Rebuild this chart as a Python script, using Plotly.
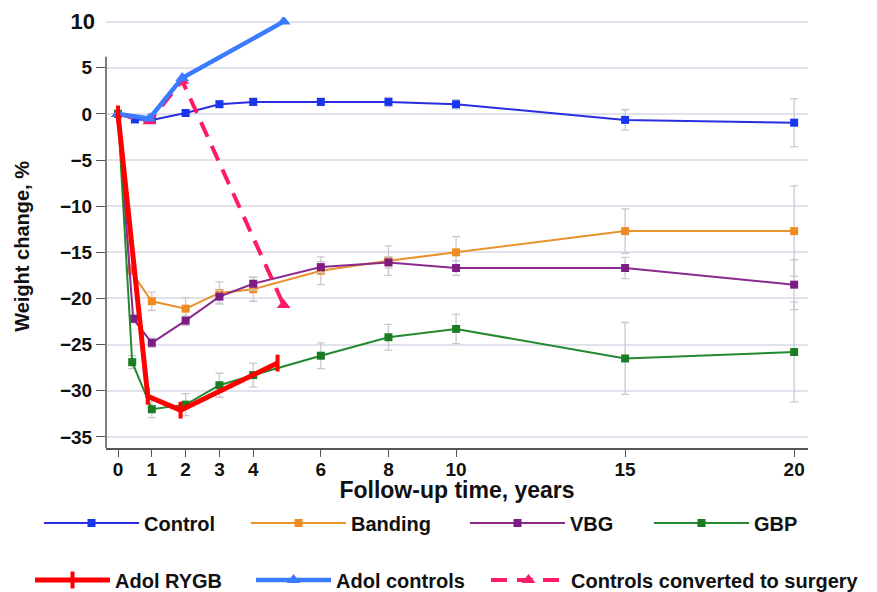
import plotly.graph_objects as go

# ---- data ----
years_ctrl = [0, 0.5, 1, 2, 3, 4, 6, 8, 10, 15, 20]
control = [0, -0.6, -0.65, 0.1, 1.05, 1.3, 1.3, 1.3, 1.05, -0.65, -0.95]
control_err = [0.2, 0.3, 0.3, 0.3, 0.35, 0.4, 0.4, 0.5, 0.5, 1.1, 2.6]

years_band = [0, 0.35, 1, 2, 3, 4, 6, 8, 10, 15, 20]
banding = [0, -16.9, -20.3, -21.1, -19.4, -19.0, -17.0, -15.9, -15.0, -12.7, -12.7]
banding_err = [0.2, 0.5, 1.0, 1.2, 1.2, 1.3, 1.5, 1.6, 1.7, 2.4, 4.9]

years_vbg = [0, 0.45, 1, 2, 3, 4, 6, 8, 10, 15, 20]
vbg = [0, -22.2, -24.8, -22.4, -19.8, -18.4, -16.6, -16.1, -16.7, -16.7, -18.5]
vbg_err = [0.2, 0.4, 0.5, 0.5, 0.7, 0.7, 0.6, 0.6, 0.8, 1.15, 2.7]

years_gbp = [0, 0.42, 1, 2, 3, 4, 6, 8, 10, 15, 20]
gbp = [0, -26.9, -32.0, -31.5, -29.4, -28.3, -26.2, -24.2, -23.3, -26.5, -25.8]
gbp_err = [0.2, 0.7, 0.9, 1.2, 1.3, 1.3, 1.4, 1.4, 1.6, 3.9, 5.4]

years_rygb = [0, 0.88, 1.85, 4.72]
adol_rygb = [0, -30.6, -32.1, -27.0]

years_adol_ctrl = [0, 0.93, 1.9, 4.9]
adol_controls = [0, -0.5, 3.9, 10.0]

years_conv = [0, 0.93, 1.9, 4.9]
converted = [0, -0.8, 3.6, -20.7]

x_ticks = [0, 1, 2, 3, 4, 6, 8, 10, 15, 20]
y_ticks = [-35, -30, -25, -20, -15, -10, -5, 0, 5]
y_top_tick = [10]

FONT = "Arial, Liberation Sans, sans-serif"
ERR = "#c9c9cf"
W, H = 877, 592
ML, MR, MT, MB = 106, 69, 17, 144
PW = W - ML - MR

fig = go.Figure()

def group_trace(x, y, err, name, color, mcolor, leg):
    fig.add_trace(go.Scatter(
        x=x, y=y, name=name, mode="lines+markers",
        line=dict(color=color, width=2),
        marker=dict(symbol="square", size=8, color=mcolor),
        error_y=dict(type="data", array=err, color=ERR, thickness=1.3, width=4),
        legend=leg,
    ))

group_trace(years_ctrl, control, control_err, "Control", "#2a2ee0", "#1836f2", "legend")
group_trace(years_band, banding, banding_err, "Banding", "#e8912d", "#ee8c22", "legend2")
group_trace(years_vbg, vbg, vbg_err, "VBG", "#8a2a8e", "#7d1d84", "legend3")
group_trace(years_gbp, gbp, gbp_err, "GBP", "#23892e", "#1a7d24", "legend4")

fig.add_trace(go.Scatter(
    x=years_conv, y=converted, name="Controls converted to surgery",
    mode="lines+markers",
    line=dict(color="#ff1a64", width=4, dash="16px,10px"),
    marker=dict(symbol="triangle-up", size=12, color="#ff1a64"),
    legend="legend7",
))
fig.add_trace(go.Scatter(
    x=years_adol_ctrl, y=adol_controls, name="Adol controls",
    mode="lines+markers",
    line=dict(color="#3b7bff", width=4.5),
    marker=dict(symbol="triangle-up", size=12, color="#3b7bff"),
    legend="legend6",
))
fig.add_trace(go.Scatter(
    x=years_rygb, y=adol_rygb, name="Adol RYGB",
    mode="lines+markers",
    line=dict(color="#ff0000", width=5),
    marker=dict(symbol="line-ns", size=12, line=dict(color="#ff0000", width=4)),
    legend="legend5",
))

# invisible trace on second y-axis to carry the "10" tick/gridline
fig.add_trace(go.Scatter(x=[None], y=[None], yaxis="y2", showlegend=False, hoverinfo="skip"))

YR = [-36.2, 10.5]
XR = [-0.355, 20.41]

def leg(text_x, row_y, itemw, size=20):
    return dict(
        orientation="h", xref="container", yref="container",
        x=(text_x - itemw - 11) / W, xanchor="left",
        y=1 - row_y / H, yanchor="middle",
        itemwidth=itemw,
        font=dict(family=FONT, size=size, color="#111111", weight="bold"),
        bgcolor="rgba(0,0,0,0)",
    )

fig.update_layout(
    width=W, height=H,
    margin=dict(l=ML, r=MR, t=MT, b=MB, autoexpand=False),
    paper_bgcolor="white", plot_bgcolor="white",
    font=dict(family=FONT, color="#111111"),
    xaxis=dict(
        range=XR, tickvals=x_ticks, showgrid=False, zeroline=False, automargin=False,
        showline=True, linecolor="#555555", linewidth=1.5,
        ticks="outside", ticklen=7, tickcolor="#555555", tickwidth=1.3,
        ticklabelstandoff=-4,
        tickfont=dict(family=FONT, size=19, color="#111111", weight="bold"),
        title=dict(text="<b>Follow-up time, years</b>", standoff=17,
                   font=dict(family=FONT, size=23, color="#111111")),
    ),
    yaxis=dict(
        range=YR, tickvals=y_ticks, showgrid=True, gridcolor="#e2e2ec", gridwidth=1.5,
        zeroline=False, showline=False, automargin=False,
        ticks="outside", ticklen=9, tickcolor="#555555", tickwidth=1.3,
        tickfont=dict(family=FONT, size=19, color="#111111", weight="bold"),
    ),
    yaxis2=dict(
        range=YR, overlaying="y", side="left", anchor="x", automargin=False,
        tickvals=y_top_tick, showgrid=True, gridcolor="#e2e2ec", gridwidth=1.5,
        zeroline=False, showline=False, ticks="", ticklabelstandoff=10,
        tickfont=dict(family=FONT, size=22, color="#111111", weight="bold"),
    ),
    legend=leg(145, 523, 95),
    legend2=leg(352, 523, 95),
    legend3=leg(571, 523, 95),
    legend4=leg(755, 523, 95),
    legend5=leg(116, 580, 75),
    legend6=leg(337, 580, 75),
    legend7=leg(572, 580, 75),
    shapes=[dict(type="line", xref="paper", yref="y", x0=0, x1=0, y0=YR[0], y1=6.2,
                 line=dict(color="#555555", width=1.5))],
    annotations=[dict(text="<b>Weight change, %</b>", xref="paper", yref="y",
                      x=(22 - ML) / PW, y=-14.4, textangle=-90, showarrow=False,
                      xanchor="center", yanchor="middle",
                      font=dict(family=FONT, size=20, color="#111111"))],
)

fig.write_html("out.html", config={"displayModeBar": False},
               post_script="document.body.style.margin='0';")
